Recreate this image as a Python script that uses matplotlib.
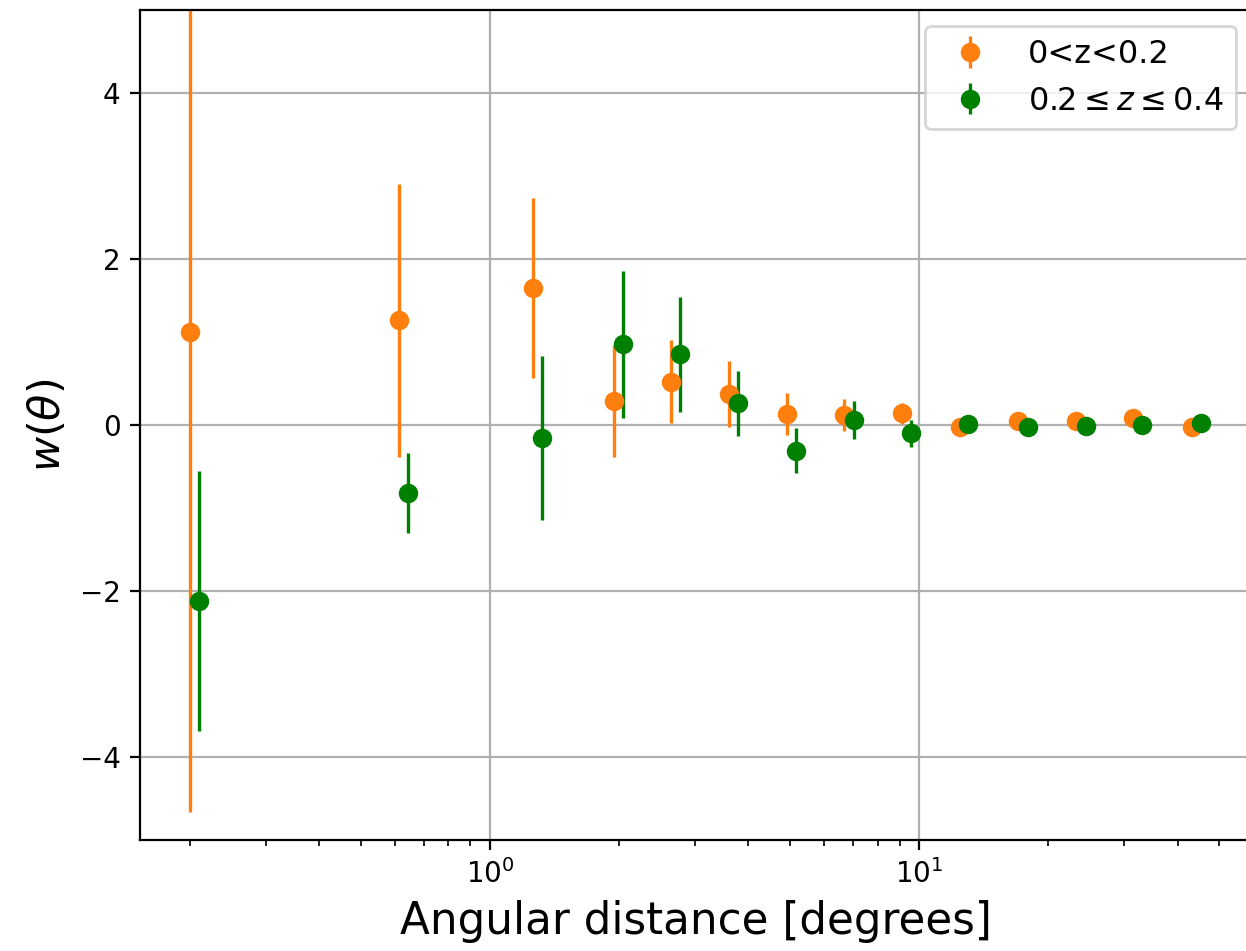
import numpy as np
import matplotlib.pyplot as plt

# angular bins (degrees) and w(theta) values
theta_lo = [0.2, 0.613, 1.26, 1.945, 2.64, 3.61, 4.92, 6.69, 9.13, 12.46, 17.0, 23.2, 31.5, 43.1]
w_lo = [1.12, 1.26, 1.65, 0.29, 0.52, 0.37, 0.13, 0.12, 0.14, -0.03, 0.05, 0.05, 0.08, -0.03]
err_lo = [5.78, 1.64, 1.08, 0.67, 0.5, 0.4, 0.25, 0.19, 0.13, 0.05, 0.05, 0.05, 0.05, 0.05]

theta_hi = [0.21, 0.643, 1.32, 2.04, 2.77, 3.79, 5.16, 7.03, 9.57, 13.0, 17.9, 24.4, 33.1, 45.3]
w_hi = [-2.12, -0.82, -0.16, 0.97, 0.85, 0.26, -0.31, 0.06, -0.10, 0.01, -0.02, -0.01, 0.0, 0.02]
err_hi = [1.57, 0.48, 0.99, 0.89, 0.69, 0.39, 0.27, 0.23, 0.16, 0.05, 0.05, 0.05, 0.05, 0.05]

fig = plt.figure(figsize=(6.23, 4.755), dpi=200)
# axes run a few pixels past the right edge, as in the cropped original
ax = fig.add_axes([0.1124, 0.1167, 1.0048 - 0.1124, 0.9895 - 0.1167])

ax.errorbar(theta_lo, w_lo, yerr=err_lo, fmt='o', color='#ff7f0e', elinewidth=1.2, label='0<z<0.2')
ax.errorbar(theta_hi, w_hi, yerr=err_hi, fmt='o', color='green', elinewidth=1.2, label=r'$0.2 \leq z \leq 0.4$')

ax.set_xscale('log')
ax.set_xlim(0.153, 59.6)
ax.set_ylim(-5, 5)
ax.set_xlabel('Angular distance [degrees]', fontsize=15.7)
ax.set_ylabel(r'$w(\theta)$', fontsize=15.5)
ax.grid(True)
ax.legend(loc='upper right', fontsize=11.5)

plt.savefig('out.png', dpi=200)
